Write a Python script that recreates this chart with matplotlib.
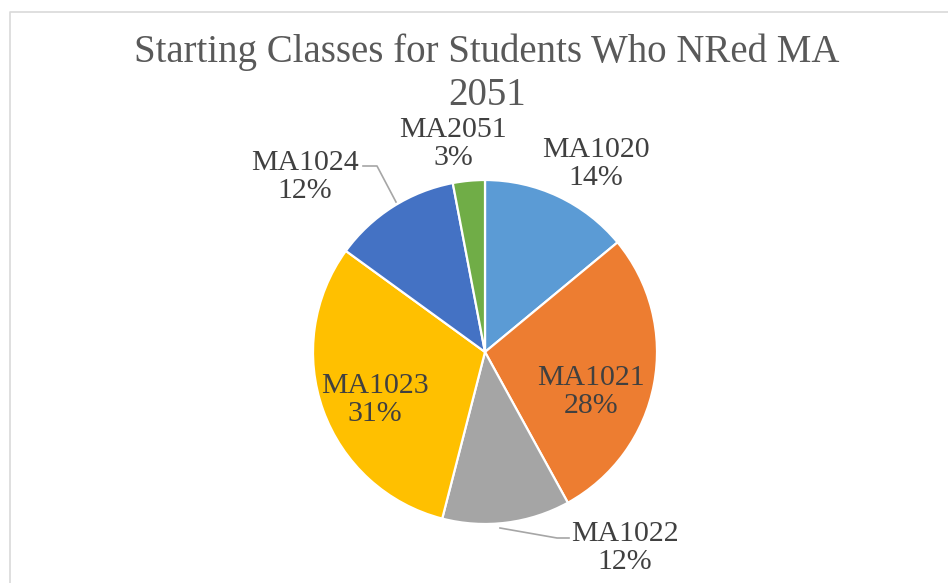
import numpy as np
import matplotlib.pyplot as plt
from matplotlib.lines import Line2D

# 数据
classes = ['MA1020', 'MA1021', 'MA1022', 'MA1023', 'MA1024', 'MA2051']
shares = [14, 28, 12, 31, 12, 3]
colors = ['#5B9BD5', '#ED7D31', '#A5A5A5', '#FFC000', '#4472C4', '#70AD47']
title = 'Starting Classes for Students Who NRed MA\n2051'

W, H = 948, 583
plt.rcParams['font.family'] = ['Liberation Serif', 'DejaVu Serif']

fig = plt.figure(figsize=(W / 100, H / 100), dpi=100)
ax = fig.add_axes([0, 0, 1, 1])

# 外框（只看得到上边和左边）
ax.add_line(Line2D([10.5, 10.5, W + 5], [H + 5, 11.5, 11.5], color='#D9D9D9', lw=1.2))

cx, cy, r = 485, 352, 172
wedges, _ = ax.pie(shares, colors=colors, startangle=90, counterclock=False,
                   center=(cx, cy), radius=r, frame=True,
                   wedgeprops=dict(edgecolor='white', linewidth=1.6))
# y 轴反向后饼图会被镜像，这里把角度翻回来
for w in wedges:
    t1, t2 = w.theta1, w.theta2
    w.set_theta1(-t2)
    w.set_theta2(-t1)
ax.set_xlim(0, W)
ax.set_ylim(H, 0)
ax.set_aspect('equal')
ax.axis('off')

ax.text(487, 74, title, ha='center', va='center', fontsize=28,
        color='#595959', linespacing=1.2)

# 标签位置（像素）
label_pos = [(596, 164), (591, 392), (625, 548), (375, 400), (305, 177), (453, 144)]
for name, v, (x, y) in zip(classes, shares, label_pos):
    ax.text(x, y, f'{name}\n{v}%', ha='center', va='center', fontsize=21.5,
            color='#404040', linespacing=1.13)

# 引导线
ax.add_line(Line2D([363, 377, 396], [166, 166, 202], color='#A6A6A6', lw=1.2))
ax.add_line(Line2D([500, 557, 569], [528, 538, 538], color='#A6A6A6', lw=1.2))

fig.savefig('out.png', dpi=100)
